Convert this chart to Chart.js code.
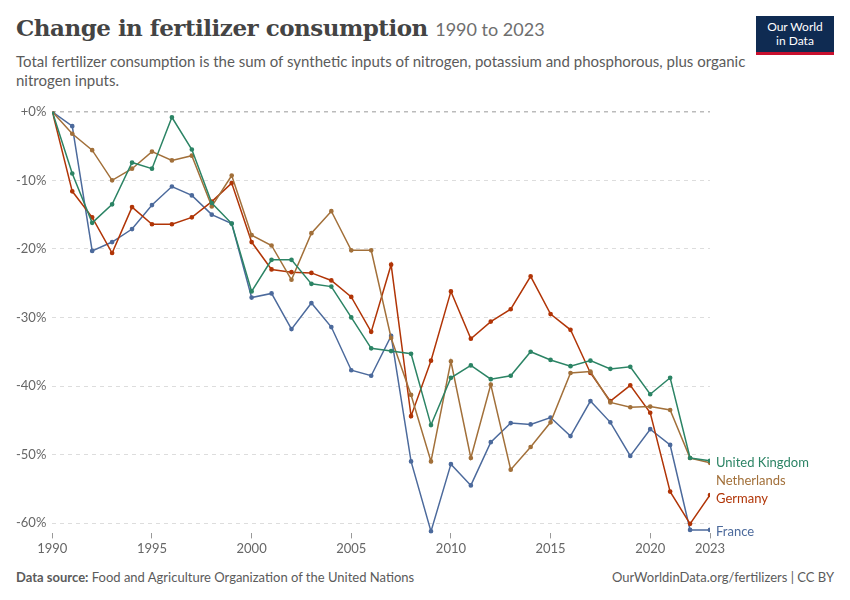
<!DOCTYPE html>
<html lang="en">
<head>
  <meta charset="UTF-8">
  <title>Change in fertilizer consumption</title>
  <script src="https://cdn.jsdelivr.net/npm/chart.js"></script>
  <style>
    body { margin: 0; background: #fff; font-family: Lato, sans-serif; }
    .wrap { position: relative; width: 850px; height: 600px; }
    h1 { position: absolute; left: 16px; top: 14px; margin: 0; font-family: "DejaVu Serif", serif; font-size: 23px; font-weight: bold; color: #444; letter-spacing: -0.5px; }
    h1 span { font-family: Lato, sans-serif; font-weight: normal; font-size: 18px; color: #6e6e6e; letter-spacing: 0; }
    .sub { position: absolute; left: 16px; top: 52px; width: 740px; font-size: 15px; line-height: 19px; color: #5b5b5b; }
    .logo { position: absolute; right: 16px; top: 16px; width: 78px; height: 36px; background: #0f2b52; border-bottom: 3px solid #c8102e; color: #fff; font-size: 12px; line-height: 14px; text-align: center; }
    .logo div { padding-top: 4px; }
    .foot { position: absolute; top: 569px; font-size: 13px; color: #5b5b5b; }
    .chart { position: absolute; left: 0; top: 98px; width: 850px; height: 462px; }
  </style>
</head>
<body>
<div class="wrap">
  <h1>Change in fertilizer consumption <span>1990 to 2023</span></h1>
  <div class="sub">Total fertilizer consumption is the sum of synthetic inputs of nitrogen, potassium and phosphorous, plus organic nitrogen inputs.</div>
  <div class="logo"><div>Our World<br>in Data</div></div>
  <div class="chart"><canvas id="myChart"></canvas></div>
  <div class="foot" style="left:16px"><b>Data source:</b> Food and Agriculture Organization of the United Nations</div>
  <div class="foot" style="right:16px">OurWorldinData.org/fertilizers | CC BY</div>
</div>

<script>
  var years = [];
  for (var y = 1990; y <= 2023; y++) years.push(y);

  var xTicks = [1990, 1995, 2000, 2005, 2010, 2015, 2020, 2023];
  var yTicks = [0, -10, -20, -30, -40, -50, -60];

  var uk = [0, -9, -16.2, -13.5, -7.4, -8.3, -0.8, -5.5, -13.3, -16.3, -26.2, -21.6, -21.6, -25.1, -25.5, -30, -34.5, -34.9, -35.3, -45.7, -38.8, -37, -39, -38.5, -35, -36.2, -37.1, -36.3, -37.5, -37.2, -41.2, -38.8, -50.5, -50.9];
  var netherlands = [0, -3.2, -5.6, -10, -8.3, -5.8, -7.1, -6.4, -13.8, -9.3, -18, -19.5, -24.5, -17.7, -14.5, -20.2, -20.2, -33, -41.3, -51, -36.4, -50.5, -39.8, -52.2, -48.9, -45.3, -38.1, -37.9, -42.4, -43.1, -43, -43.5, -50.5, -51.2];
  var germany = [0, -11.6, -15.4, -20.6, -13.9, -16.4, -16.4, -15.4, -13.1, -10.4, -19, -23, -23.4, -23.5, -24.6, -27, -32.1, -22.3, -44.4, -36.3, -26.2, -33.1, -30.6, -28.8, -24, -29.5, -31.8, -38.1, -42.2, -39.9, -43.9, -55.4, -60.1, -55.9];
  var france = [0, -2.1, -20.3, -19, -17.1, -13.6, -10.9, -12.2, -15, -16.3, -27.1, -26.5, -31.7, -27.9, -31.4, -37.7, -38.5, -32.7, -51, -61.2, -51.4, -54.5, -48.2, -45.4, -45.6, -44.6, -47.3, -42.2, -45.3, -50.2, -46.3, -48.6, -61, -61];

  function series(label, values, color) {
    return {
      label: label,
      data: values.map(function (v, i) { return { x: years[i], y: v }; }),
      borderColor: color,
      backgroundColor: color,
      borderWidth: 1.5,
      pointRadius: 1.6,
      pointHoverRadius: 3,
      tension: 0
    };
  }

  // end-of-line labels, pushed apart so they don't overlap
  const endLabels = {
    id: 'endLabels',
    afterDatasetsDraw(chart) {
      const ctx = chart.ctx;
      const items = chart.data.datasets.map(function (ds, i) {
        const pts = chart.getDatasetMeta(i).data;
        const p = pts[pts.length - 1];
        return { text: ds.label, color: ds.borderColor, x: p.x, y: p.y };
      }).sort(function (a, b) { return a.y - b.y; });
      for (var i = 1; i < items.length; i++) {
        if (items[i].y - items[i - 1].y < 18) items[i].y = items[i - 1].y + 18;
      }
      ctx.save();
      ctx.font = '13px Lato';
      ctx.textBaseline = 'middle';
      items.forEach(function (it) {
        ctx.fillStyle = it.color;
        ctx.fillText(it.text, it.x + 6, it.y + 2);
      });
      ctx.restore();
    }
  };

  const ctx = document.getElementById('myChart');

  const chart = new Chart(ctx, {
    type: 'line',
    data: {
      datasets: [
        series('United Kingdom', uk, '#2c8465'),
        series('Netherlands', netherlands, '#a2703a'),
        series('Germany', germany, '#b13507'),
        series('France', france, '#4c6a9c')
      ]
    },
    plugins: [endLabels],
    options: {
      responsive: true,
      maintainAspectRatio: false,
      animation: false,
      layout: { padding: { left: 10, right: 140, top: 12, bottom: 0 } },
      plugins: { legend: { display: false }, tooltip: { enabled: false } },
      scales: {
        x: {
          type: 'linear',
          min: 1990,
          max: 2023,
          afterBuildTicks: function (axis) { axis.ticks = xTicks.map(function (v) { return { value: v }; }); },
          grid: { display: true, drawOnChartArea: false, drawTicks: true, tickLength: 5, color: '#999' },
          border: { display: false },
          ticks: { color: '#666', padding: 3, font: { family: 'Lato', size: 13 }, maxRotation: 0, autoSkip: false, callback: function (v) { return String(v); } }
        },
        y: {
          min: -61.5,
          max: 0,
          afterBuildTicks: function (axis) { axis.ticks = yTicks.map(function (v) { return { value: v }; }); },
          border: { display: false, dash: [4, 4] },
          grid: {
            drawTicks: false,
            color: function (c) { return c.tick && c.tick.value === 0 ? '#bbb' : '#ddd'; },
            lineWidth: function (c) { return c.tick && c.tick.value === 0 ? 1.5 : 1; }
          },
          ticks: {
            color: '#666', padding: 6,
            font: { family: 'Lato', size: 13 },
            callback: function (v) { return v === 0 ? '+0%' : v + '%'; }
          }
        }
      }
    }
  });
</script>
</body>
</html>
